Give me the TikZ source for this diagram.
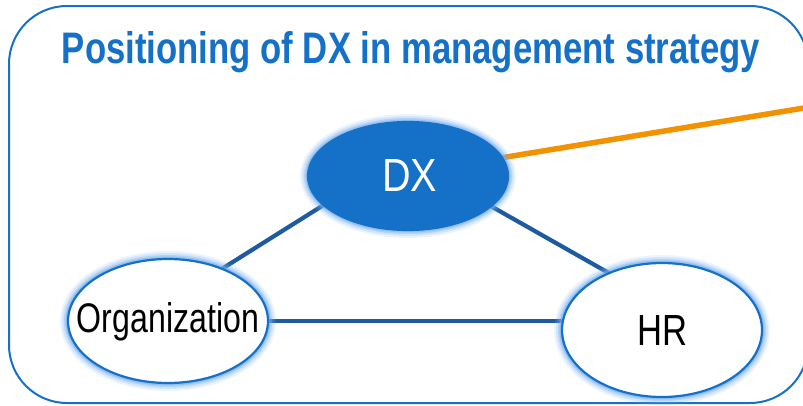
\documentclass[tikz,border=0pt]{standalone}
\usepackage{fontspec}
\setmainfont{Liberation Sans}
\usepackage{graphicx}
\usetikzlibrary{shapes.geometric}
\definecolor{mainblue}{RGB}{21,112,200}
\definecolor{linkblue}{RGB}{30,90,160}
\definecolor{glowblue}{RGB}{120,175,240}
\definecolor{orangeline}{RGB}{243,146,0}
\tikzset{
  bubble/.style={ellipse, inner sep=0pt},
  ring/.style={draw=mainblue, line width=2.2pt},
  link/.style={draw=linkblue, line width=4.2pt},
  lbl/.style={anchor=base, inner sep=0pt}
}
\newcommand{\glowat}[3]{%
  \foreach \w/\o in {16/0.14,12/0.22,8/0.35,5/0.5}{%
    \draw[glowblue, line width=\w pt, opacity=\o] (#1) ellipse [x radius=#2, y radius=#3];}}
\begin{document}
\begin{tikzpicture}[x=1pt,y=-1pt]
\useasboundingbox (0,0) rectangle (803,405);
% frame
\draw[mainblue, line width=2pt, rounded corners=58pt] (9,6) rectangle (808,403);
\node[lbl, text=mainblue] (title) at (411,63) {\resizebox{698pt}{32pt}{\bfseries Positioning of DX in management strategy}};
% node centres and shapes
\coordinate (cdx) at (408,176);
\coordinate (corg) at (168,321);
\coordinate (chr) at (662,330);
\node[bubble, minimum width=200pt, minimum height=108pt] (dx) at (cdx) {};
\node[bubble, minimum width=200pt, minimum height=124pt] (org) at (corg) {};
\node[bubble, minimum width=200pt, minimum height=134pt] (hr) at (chr) {};
% connectors
\coordinate (oend) at (810,107);
\draw[link] (dx.199) -- (org.44);
\draw[link] (dx.340) -- (hr.133);
\draw[link] (org.east) -- (org.east -| hr.west);
\draw[orangeline, line width=5.5pt] (dx.11) -- (oend);
% glows
\glowat{cdx}{100}{54}
\glowat{corg}{100}{62}
\glowat{chr}{100}{67}
% ellipses on top
\draw[ring, fill=mainblue] (cdx) ellipse [x radius=100, y radius=54];
\draw[ring, fill=white] (corg) ellipse [x radius=100, y radius=62];
\draw[ring, fill=white] (chr) ellipse [x radius=100, y radius=67];
% labels
\node[lbl, text=white] (dxt) at (409.5,191) {\resizebox{55pt}{32pt}{DX}};
\node[lbl, text=black] (orgt) at (168,332) {\resizebox{182pt}{30pt}{Organization}};
\node[lbl, text=black] (hrt) at (662,345) {\resizebox{50pt}{30pt}{HR}};
\end{tikzpicture}
\end{document}
